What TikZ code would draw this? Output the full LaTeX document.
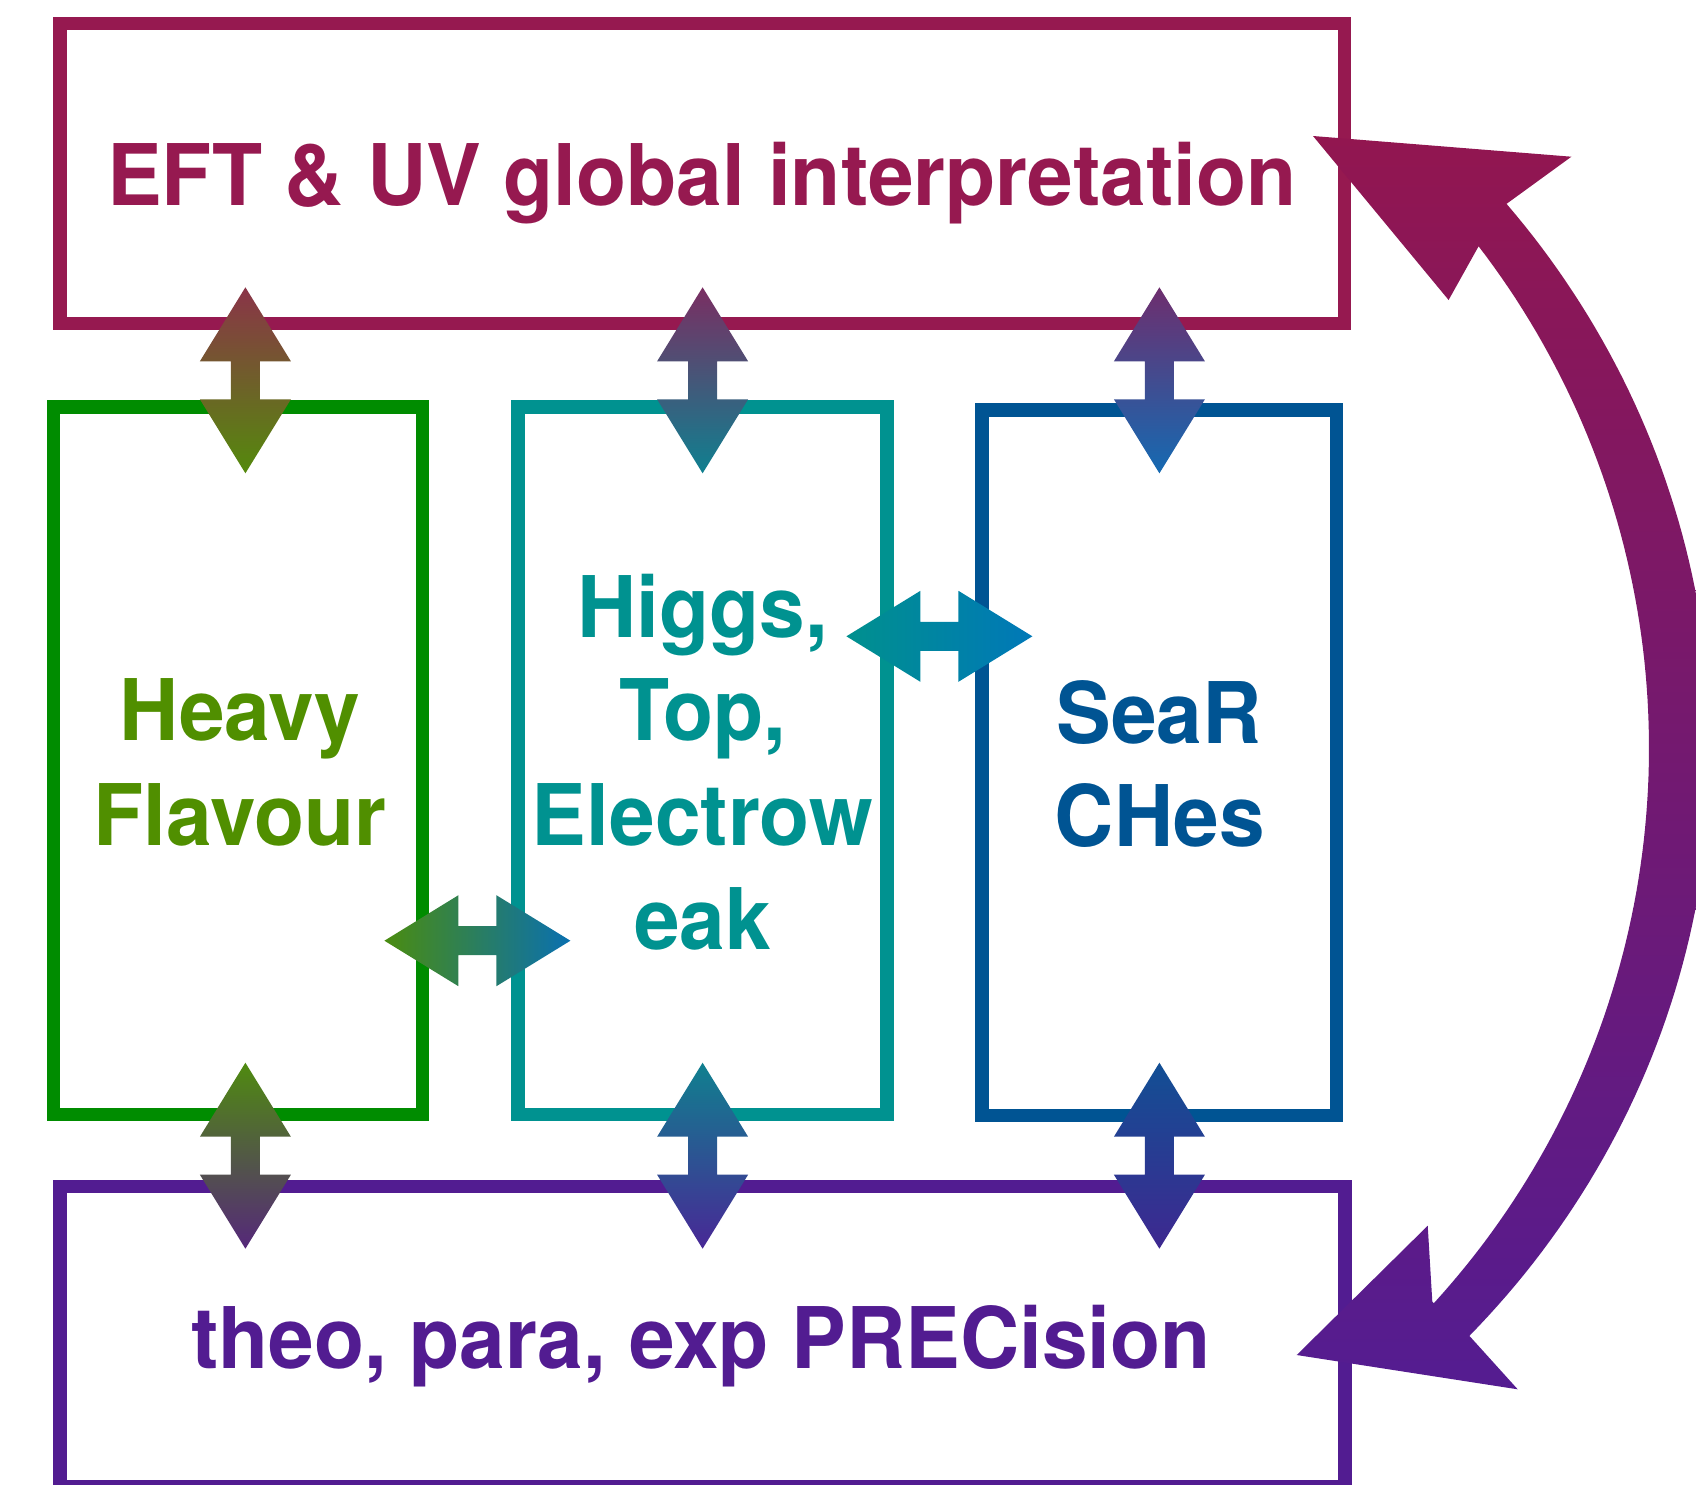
\documentclass[tikz,border=0pt]{standalone}
\usepackage{fontspec}
\setmainfont{TeX Gyre Heros}[FakeStretch=0.965]
\definecolor{cTop}{RGB}{150,25,80}
\definecolor{cGreenBox}{RGB}{0,140,0}
\definecolor{cGreenTxt}{RGB}{80,143,0}
\definecolor{cTeal}{RGB}{0,146,144}
\definecolor{cBlue}{RGB}{0,84,147}
\definecolor{cPurple}{RGB}{82,28,145}
\definecolor{cArcT}{RGB}{146,22,80}
\definecolor{cArcB}{RGB}{84,28,145}
\definecolor{aTLt}{RGB}{138,52,72}
\definecolor{aTLb}{RGB}{84,138,12}
\definecolor{aTMt}{RGB}{122,46,98}
\definecolor{aTMb}{RGB}{15,128,144}
\definecolor{aTRt}{RGB}{110,46,110}
\definecolor{aTRb}{RGB}{21,106,178}
\definecolor{aBLt}{RGB}{79,138,16}
\definecolor{aBLb}{RGB}{85,40,122}
\definecolor{aBMt}{RGB}{16,128,143}
\definecolor{aBMb}{RGB}{72,40,150}
\definecolor{aBRt}{RGB}{18,79,148}
\definecolor{aBRb}{RGB}{62,40,144}
\definecolor{aHLl}{RGB}{74,140,16}
\definecolor{aHLr}{RGB}{10,112,176}
\definecolor{aHUl}{RGB}{0,144,142}
\definecolor{aHUr}{RGB}{0,120,184}
% vertical double arrow: x, y of top tip, top colour, bottom colour
\newcommand\vdarr[4]{%
  \shade[top color=#3, bottom color=#4] (#1,#2) -- ++(45.5,74) -- ++(-31,0) -- ++(0,38)
    -- ++(31,0) -- ++(-45.5,74) -- ++(-45.5,-74) -- ++(31,0) -- ++(0,-38) -- ++(-31,0) -- cycle;}
% horizontal double arrow: x of left tip, y, left colour, right colour
\newcommand\hdarr[4]{%
  \shade[left color=#3, right color=#4] (#1,#2) -- ++(74,-45.5) -- ++(0,31) -- ++(38,0)
    -- ++(0,-31) -- ++(74,45.5) -- ++(-74,45.5) -- ++(0,-31) -- ++(-38,0) -- ++(0,31) -- cycle;}
\begin{document}
\begin{tikzpicture}[x=1pt,y=-1pt]
\useasboundingbox (0,0) rectangle (1696,1484);
\tikzset{
  frame/.style={draw, rectangle, line width=13.3pt, inner sep=0pt, outer sep=0pt},
  lbl/.style={anchor=base, inner sep=0pt, font=\fontsize{85}{104}\selectfont\bfseries},
}
% boxes
\node[frame, draw=cTop, minimum width=1284.5pt, minimum height=300pt] (eft) at (702.25,173.5) {};
\node[frame, draw=cGreenBox, minimum width=369pt, minimum height=707.7pt] (hf) at (237.9,760.9) {};
\node[frame, draw=cTeal, minimum width=369pt, minimum height=707.7pt] (hte) at (702.5,760.9) {};
\node[frame, draw=cBlue, minimum width=354.3pt, minimum height=705.7pt] (sc) at (1159.2,762.9) {};
\node[frame, draw=cPurple, minimum width=1285pt, minimum height=300pt] (prec) at (702.5,1336.8) {};
% double arrows
\vdarr{245.4}{287.3}{aTLt}{aTLb}
\vdarr{702.6}{287.3}{aTMt}{aTMb}
\vdarr{1159.4}{287.3}{aTRt}{aTRb}
\vdarr{245.4}{1062.7}{aBLt}{aBLb}
\vdarr{702.6}{1062.7}{aBMt}{aBMb}
\vdarr{1159.4}{1062.7}{aBRt}{aBRb}
\hdarr{384.4}{940.7}{aHLl}{aHLr}
\hdarr{846.4}{636.3}{aHUl}{aHUr}
% curved double arrow
\shade[top color=cArcT, bottom color=cArcB]
  (1313,136) -- (1571.4,156.7) -- (1506.3,204)
  -- plot[domain=-38.6:42.38, samples=90] ({825+(872+14*cos((\x-2)*2.2))*cos(\x)},{748+(872+14*cos((\x-2)*2.2))*sin(\x)})
  -- (1470.7,1337.3) -- (1517.7,1389.3) -- (1296.7,1355) -- (1427.7,1225.7) -- (1432.3,1301.7)
  -- plot[domain=42.36:-37.5, samples=90] ({825+824*cos(\x)},{748+824*sin(\x)})
  -- (1478.9,245.7) -- (1448.6,300) -- cycle;
% labels
\node[lbl, text=cTop] (eftl) at (702,205) {EFT \& UV global interpretation};
\node[lbl, text=cGreenTxt] (hf1) at (240,740.7) {Heavy};
\node[lbl, text=cGreenTxt] (hf2) at (240,845) {Flavour};
\node[lbl, text=cTeal] (hte1) at (702.5,637.3) {Higgs,};
\node[lbl, text=cTeal] (hte2) at (702.5,740.7) {Top,};
\node[lbl, text=cTeal] (hte3) at (702.5,845) {Electrow};
\node[lbl, text=cTeal] (hte4) at (702.5,949) {eak};
\node[lbl, text=cBlue] (sc1) at (1159,743.3) {SeaR};
\node[lbl, text=cBlue] (sc2) at (1160,846.7) {CHes};
\node[lbl, text=cPurple] (precl) at (701,1368.3) {theo, para, exp PRECision};
\end{tikzpicture}
\end{document}
